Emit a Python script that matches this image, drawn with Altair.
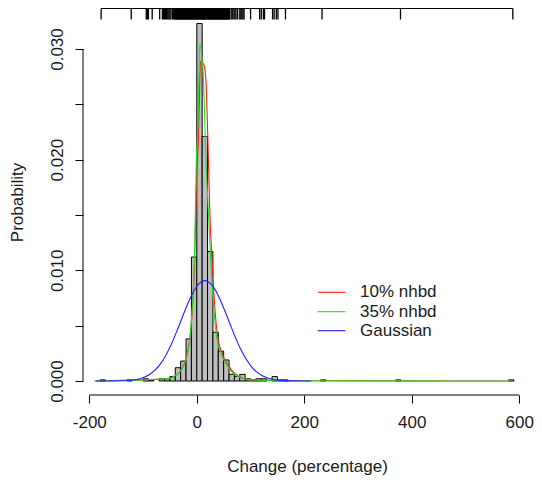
import altair as alt
import pandas as pd

FONT = "Liberation Sans"
TXT = "#1a1a1a"

# ---------------- data ----------------
x_ticks = [-200, 0, 200, 400, 600]
y_ticks = [0.0, 0.005, 0.010, 0.015, 0.020, 0.025, 0.030]

bin_lo = [-180, -130, -100, -90, -70, -60, -50, -40, -30, -20, -10, 0, 10, 20, 30,
          40, 50, 60, 70, 80, 90, 100, 110, 120, 140, 150, 160, 230, 370, 580]
bin_hi = [-170, -120, -90, -80, -60, -50, -40, -30, -20, -10, 0, 10, 20, 30, 40,
          50, 60, 70, 80, 90, 100, 110, 120, 130, 150, 160, 170, 240, 380, 590]
bin_h = [0.0001, 0.0001, 0.0002, 0.0001, 0.0002, 0.0002, 0.0004, 0.0012, 0.0018, 0.0038,
         0.0112, 0.0323, 0.0221, 0.0117, 0.0044, 0.0027, 0.0019, 0.0006, 0.0004, 0.0006,
         0.0002, 0.0001, 0.0002, 0.0002, 0.0004, 0.0001, 0.0001, 0.0001, 0.0001, 0.0001]

rug_vals = [-178, -122, -94, -92, -90, -83, -69, -64, -62, -60, -58, -56, -54, -52, -50,
            -48, -45, -43,
            -41, -40, -39, -38, -37, -36, -35, -34, -33, -32, -31, -30, -29, -28, -27, -26,
            -25, -24, -23, -22, -21, -20, -19, -18, -17, -16, -15, -14, -13, -12, -11, -10,
            -9, -8, -7, -6, -5, -4, -3, -2, -1, 0, 1, 2, 3, 4, 5, 6, 7, 8, 9, 10, 11, 12,
            13, 14, 15, 16, 17, 18, 19, 20, 21, 22, 23, 24, 25, 26, 27, 28, 29, 30, 31, 32,
            33, 34, 35, 36, 37, 38, 39, 40, 41, 42, 43, 44, 45, 46, 47, 48, 49, 50, 51, 52,
            53, 54, 55, 56, 57, 58, 59, 60, 61,
            64, 66, 69, 71, 73, 76, 80, 82, 84, 86, 88, 100, 117, 120, 124, 126,
            141, 144, 148, 151, 165, 233, 379, 588]

red_x = [-190, -150, -100, -60, -48, -40, -29, -20, -10, -4, 0, 3, 5, 7, 13, 17, 19,
         20.5, 23.6, 29, 38, 47, 60, 78, 100, 150, 200, 400, 588]
red_y = [0.0, 0.00005, 0.0001, 0.0002, 0.0003, 0.0005, 0.0010, 0.0021, 0.0052, 0.0110,
         0.0190, 0.0218, 0.0260, 0.0289, 0.0286, 0.0272, 0.0245, 0.0221, 0.0163, 0.0103,
         0.0043, 0.0025, 0.0013, 0.0004, 0.0001, 0.00005, 0.00002, 0.00001, 0.0]

green_x = [-190, -150, -100, -60, -48, -40, -29, -17, -10, -4, -1, 2, 4, 5.6, 9.3, 12.5,
           14.3, 16, 20.5, 26.7, 36, 45, 57.7, 76, 100, 150, 200, 400, 588]
green_y = [0.0, 0.00005, 0.0001, 0.0002, 0.00025, 0.0005, 0.0010, 0.0025, 0.0055, 0.0118,
           0.0197, 0.0230, 0.0275, 0.0305, 0.0293, 0.0272, 0.0245, 0.0215, 0.0163, 0.0103,
           0.0043, 0.0025, 0.0013, 0.0004, 0.0001, 0.00005, 0.00002, 0.00001, 0.0]

gauss_x = [-187, -150, -118, -98, -88, -78, -68, -58, -48, -38, -28, -18, -8, 2, 12, 15,
           22, 32, 42, 52, 62, 72, 82, 92, 102, 112, 122, 132, 142, 162, 180, 213]
gauss_y = [0.0, 0.00001, 0.000094, 0.000334, 0.000586, 0.000975, 0.00153, 0.00229, 0.00325,
           0.00439, 0.00563, 0.00685, 0.00791, 0.00868, 0.00905, 0.00907, 0.00895, 0.00841,
           0.00751, 0.00637, 0.00513, 0.00392, 0.00284, 0.00196, 0.00128, 0.00080, 0.00047,
           0.00027, 0.00014, 0.000034, 0.00001, 0.0]

series_names = ["10% nhbd", "35% nhbd", "Gaussian"]
series_colors = ["#FF1a1a", "#22DD22", "#2020FF"]

# ---------------- layout ----------------
W, H = 448, 386
xs = alt.Scale(domain=[-211.7, 621.8], nice=False, zero=False)
ys = alt.Scale(domain=[-0.001265, 0.033614], nice=False, zero=False)

xaxis = alt.Axis(values=x_ticks, title="Change (percentage)", domain=False, grid=False,
                 tickSize=8, tickColor="black", labelFont=FONT, labelFontSize=17,
                 labelColor=TXT, labelPadding=19, labelBaseline="middle", labelFlush=False,
                 labelExpr="'' + datum.value", labelOverlap=False,
                 titleFont=FONT, titleFontSize=17, titleFontWeight="normal", titleColor=TXT,
                 titleY=71, titleBaseline="middle")
yaxis = alt.Axis(values=y_ticks, title="Probability", domain=False, grid=False,
                 tickSize=8, tickColor="black", labelFont=FONT, labelFontSize=17,
                 labelColor=TXT, labelAngle=270, labelAlign="center", labelBaseline="middle",
                 labelPadding=18, labelFlush=False, labelOverlap=False,
                 labelExpr="round(datum.value*1000) % 10 == 0 ? format(datum.value, '.3f') : ''",
                 titleFont=FONT, titleFontSize=17, titleFontWeight="normal", titleColor=TXT,
                 titleX=-66, titleAngle=270, titleBaseline="middle", titleAlign="center")

hist_df = pd.DataFrame({"lo": bin_lo, "hi": bin_hi, "h": bin_h, "base": [0.0] * len(bin_lo)})
hist = alt.Chart(hist_df).mark_rect(fill="#BEBEBE", stroke="black", strokeWidth=1).encode(
    x=alt.X("lo:Q", scale=xs, axis=xaxis), x2="hi:Q",
    y=alt.Y("h:Q", scale=ys, axis=yaxis), y2="base:Q")


def curve(xv, yv, color):
    df = pd.DataFrame({"x": xv, "y": yv})
    return alt.Chart(df).mark_line(color=color, strokeWidth=1.1, interpolate="monotone").encode(
        x=alt.X("x:Q", scale=xs, axis=xaxis), y=alt.Y("y:Q", scale=ys, axis=yaxis))


red = curve(red_x, red_y, series_colors[0])
green = curve(green_x, green_y, series_colors[1])
blue = curve(gauss_x, gauss_y, series_colors[2])

rug_df = pd.DataFrame({"v": rug_vals})
rug_ticks = alt.Chart(rug_df).mark_rule(color="black", strokeWidth=1.3).encode(
    x=alt.X("v:Q", scale=xs, axis=xaxis), y=alt.value(-0.5), y2=alt.value(10.5))
rug_line = alt.Chart(rug_df).mark_rule(color="black", strokeWidth=1).encode(
    x=alt.X("min(v):Q", scale=xs, axis=xaxis), x2="max(v):Q", y=alt.value(-0.5))

xline_df = pd.DataFrame({"a": [x_ticks[0]], "b": [x_ticks[-1]]})
xline = alt.Chart(xline_df).mark_rule(color="black", strokeWidth=1).encode(
    x=alt.X("a:Q", scale=xs, axis=xaxis), x2="b:Q", y=alt.value(H))
yline_df = pd.DataFrame({"a": [y_ticks[0]], "b": [y_ticks[-1]]})
yline = alt.Chart(yline_df).mark_rule(color="black", strokeWidth=1).encode(
    y=alt.Y("a:Q", scale=ys, axis=yaxis), y2="b:Q", x=alt.value(0))

legend_rows = [283.3, 302.7, 321.7]
legend_layers = []
for name, col, ry in zip(series_names, series_colors, legend_rows):
    ldf = pd.DataFrame({"n": [name]})
    legend_layers.append(alt.Chart(ldf).mark_rule(color=col, strokeWidth=1.1).encode(
        x=alt.value(234.7), x2=alt.value(262.3), y=alt.value(ry)))
    legend_layers.append(alt.Chart(ldf).mark_text(align="left", baseline="middle", font=FONT,
                                                  fontSize=17, color=TXT).encode(
        x=alt.value(277), y=alt.value(ry), text="n:N"))

chart = alt.layer(hist, red, green, blue, rug_line, rug_ticks, xline, yline, *legend_layers).properties(
    width=W, height=H,
    padding={"left": 75, "top": 1, "right": 3, "bottom": 80},
    autosize=alt.AutoSizeParams(type="none"),
    background="white",
).configure_view(stroke=None)

chart.save("out.html", embed_options={"renderer": "svg", "actions": False})
